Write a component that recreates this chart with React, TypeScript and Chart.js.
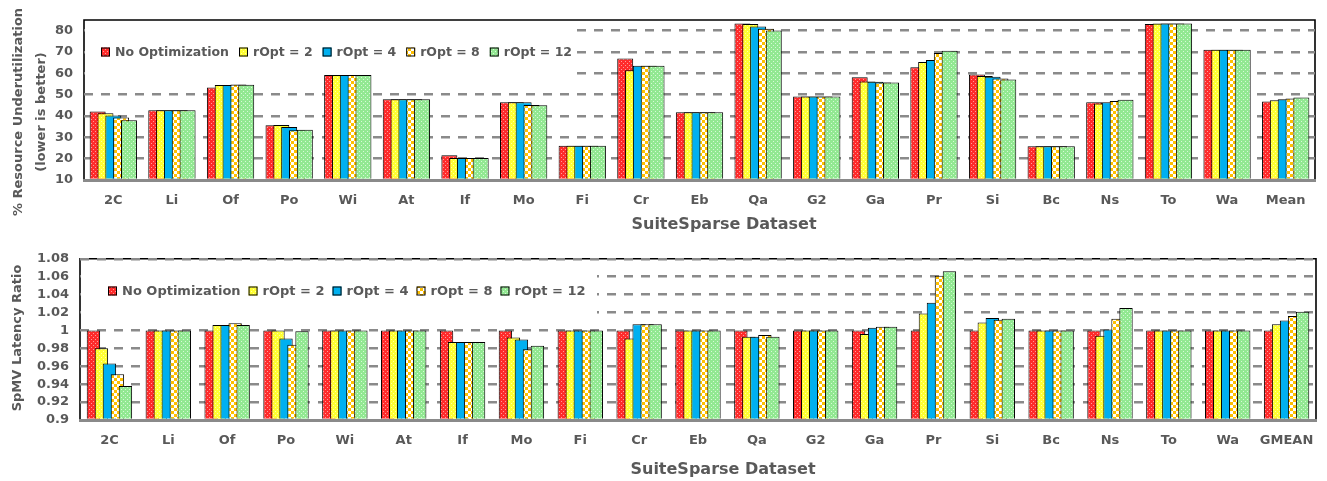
import React, { useEffect, useRef } from "react";
import { Chart, registerables } from "chart.js";

Chart.register(...registerables);

// ---------------- data ----------------
const UTIL_CATEGORIES = ["2C", "Li", "Of", "Po", "Wi", "At", "If", "Mo", "Fi", "Cr", "Eb", "Qa", "G2", "Ga", "Pr", "Si", "Bc", "Ns", "To", "Wa", "Mean"];
const LAT_CATEGORIES = ["2C", "Li", "Of", "Po", "Wi", "At", "If", "Mo", "Fi", "Cr", "Eb", "Qa", "G2", "Ga", "Pr", "Si", "Bc", "Ns", "To", "Wa", "GMEAN"];
const SERIES_NAMES = ["No Optimization", "rOpt = 2", "rOpt = 4", "rOpt = 8", "rOpt = 12"];

const UTIL_NO_OPT = [42.1, 42.7, 53.4, 35.7, 59.2, 47.9, 21.6, 46.5, 26.1, 67.0, 41.8, 83.4, 49.1, 58.2, 62.8, 59.5, 25.8, 46.5, 83.1, 71.1, 46.8];
const UTIL_R2 = [41.3, 42.7, 54.5, 35.8, 59.2, 47.9, 20.3, 46.5, 26.1, 61.5, 41.8, 83.1, 49.1, 56.2, 65.3, 58.8, 25.8, 45.9, 83.4, 71.1, 47.4];
const UTIL_R4 = [40.2, 42.7, 54.5, 34.9, 59.2, 47.9, 20.3, 46.4, 26.1, 63.5, 41.8, 81.9, 49.1, 56.0, 66.2, 58.4, 25.8, 46.4, 83.4, 71.1, 47.9];
const UTIL_R8 = [39.3, 42.7, 54.8, 33.3, 59.2, 47.9, 20.3, 45.1, 26.1, 63.5, 41.8, 80.9, 49.1, 55.7, 69.5, 57.6, 25.8, 47.0, 83.4, 71.1, 48.2];
const UTIL_R12 = [38.0, 42.7, 54.7, 33.6, 59.2, 47.9, 20.3, 45.0, 26.1, 63.5, 41.8, 80.1, 49.1, 55.7, 70.6, 57.1, 25.8, 47.6, 83.4, 71.1, 48.7];

const LAT_NO_OPT = [1.0, 1.0, 1.0, 1.0, 1.0, 1.0, 1.0, 1.0, 1.0, 1.0, 1.0, 1.0, 1.0, 1.0, 1.0, 1.0, 1.0, 1.0, 1.0, 1.0, 1.0];
const LAT_R2 = [0.980, 1.0, 1.006, 1.0, 1.0, 1.0, 0.987, 0.992, 1.0, 0.991, 1.0, 0.993, 1.0, 0.996, 1.019, 1.009, 1.0, 0.994, 1.0, 1.0, 1.007];
const LAT_R4 = [0.963, 1.0, 1.006, 0.991, 1.0, 1.0, 0.987, 0.990, 1.0, 1.007, 1.0, 0.993, 1.0, 1.003, 1.031, 1.014, 1.0, 1.001, 1.0, 1.0, 1.011];
const LAT_R8 = [0.951, 1.0, 1.008, 0.984, 1.0, 1.0, 0.987, 0.979, 1.0, 1.007, 1.0, 0.995, 1.0, 1.004, 1.061, 1.012, 1.0, 1.013, 1.0, 1.0, 1.016];
const LAT_R12 = [0.938, 1.0, 1.006, 0.999, 1.0, 1.0, 0.987, 0.983, 1.0, 1.007, 1.0, 0.993, 1.0, 1.004, 1.066, 1.013, 1.0, 1.025, 1.0, 1.0, 1.021];

const UTIL_TICKS = [10, 20, 30, 40, 50, 60, 70, 80];
const LAT_TICKS = [0.9, 0.92, 0.94, 0.96, 0.98, 1, 1.02, 1.04, 1.06, 1.08];

const UTIL_Y_TITLE = ["% Resource Underutilization", "(lower is better)"];
const LAT_Y_TITLE = ["SpMV Latency Ratio"];
const X_TITLE = "SuiteSparse Dataset";

// ---------------- styling ----------------
const FONT = '"DejaVu Sans", "Liberation Sans", sans-serif';
const TEXT = "#595959";
const GRID = "#8a8a8a";

function tile(w: number, h: number, paint: (g: CanvasRenderingContext2D) => void) {
  const c = document.createElement("canvas");
  c.width = w;
  c.height = h;
  const g = c.getContext("2d")!;
  paint(g);
  return g.createPattern(c, "repeat")!;
}

function dotted(base: string, dot: string) {
  return tile(4, 4, (g) => {
    g.fillStyle = base;
    g.fillRect(0, 0, 4, 4);
    g.fillStyle = dot;
    g.fillRect(1, 1, 1, 1);
    g.fillRect(3, 3, 1, 1);
  });
}

function makeFills() {
  const red = dotted("#ff2b2b", "#ff9a9a");
  const yellow = dotted("#ffff33", "#ffffa8");
  const blue = "#00b0f0";
  const checker = tile(6, 6, (g) => {
    g.fillStyle = "#ffffff";
    g.fillRect(0, 0, 6, 6);
    g.fillStyle = "#ffc000";
    g.fillRect(0, 0, 3, 3);
    g.fillRect(3, 3, 3, 3);
  });
  const green = dotted("#92e892", "#d6fad6");
  return [red, yellow, blue, checker, green];
}

type PanelCfg = {
  height: number;
  categories: string[];
  series: number[][];
  ticks: number[];
  min: number;
  max: number;
  yTitle: string[];
  yTitlePos: { x: number; y: number }[];
  xTitlePos: { x: number; y: number };
  padding: { top: number; right: number; left: number; bottom: number };
  yWidth: number;
  xHeight: number;
  catPct: number;
  barPct: number;
  legendRect: { x1: number; y1: number; x2: number; y2: number };
  legendStart: { x: number; y: number };
  legendFont: number;
  legendGap: number;
  fmt: (v: number) => string;
};

function panelPlugin(cfg: PanelCfg, fills: any[]) {
  return {
    id: "panelDecor",
    beforeDraw(chart: any) {
      const { ctx, chartArea: a } = chart;
      ctx.save();
      ctx.strokeStyle = "#000";
      ctx.lineWidth = 1.6;
      ctx.beginPath();
      ctx.moveTo(a.left, a.bottom);
      ctx.lineTo(a.left, a.top);
      ctx.lineTo(a.right, a.top);
      ctx.lineTo(a.right, a.bottom);
      ctx.stroke();
      // axis titles
      ctx.fillStyle = TEXT;
      ctx.textAlign = "center";
      ctx.textBaseline = "middle";
      ctx.font = `bold 13px ${FONT}`;
      cfg.yTitle.forEach((line, i) => {
        const p = cfg.yTitlePos[i];
        ctx.save();
        ctx.translate(p.x, p.y);
        ctx.rotate(-Math.PI / 2);
        ctx.fillText(line, 0, 0);
        ctx.restore();
      });
      ctx.font = `bold 16px ${FONT}`;
      ctx.fillText(X_TITLE, cfg.xTitlePos.x, cfg.xTitlePos.y);
      ctx.restore();
    },
    beforeDatasetsDraw(chart: any) {
      const { ctx, chartArea: a } = chart;
      const r = cfg.legendRect;
      ctx.save();
      ctx.fillStyle = "#ffffff";
      ctx.fillRect(r.x1, r.y1, r.x2 - r.x1, r.y2 - r.y1);
      ctx.font = `bold ${cfg.legendFont}px ${FONT}`;
      ctx.textAlign = "left";
      ctx.textBaseline = "middle";
      let x = cfg.legendStart.x;
      const y = cfg.legendStart.y;
      SERIES_NAMES.forEach((name, i) => {
        ctx.fillStyle = fills[i];
        ctx.fillRect(x, y - 4.5, 9, 9);
        ctx.strokeStyle = "#000";
        ctx.lineWidth = 1;
        ctx.strokeRect(x + 0.5, y - 4, 8, 8);
        ctx.fillStyle = TEXT;
        ctx.fillText(name, x + 14, y + 0.5);
        x += 14 + ctx.measureText(name).width + cfg.legendGap;
      });
      ctx.restore();
      // draw bars so that later series sit on top of earlier ones
      ctx.save();
      ctx.beginPath();
      ctx.rect(a.left, a.top - 2, a.right - a.left, a.bottom - a.top + 2);
      ctx.clip();
      chart.getSortedVisibleDatasetMetas().forEach((m: any) => m.controller.draw());
      ctx.restore();
      return false;
    },
  };
}

function buildConfig(cfg: PanelCfg, fills: any[]): any {
  const tickFont = { family: FONT, size: 13, weight: "bold" as const };
  return {
    type: "bar",
    data: {
      labels: cfg.categories,
      datasets: cfg.series.map((data, i) => ({
        label: SERIES_NAMES[i],
        data,
        base: cfg.min,
        backgroundColor: fills[i],
        borderColor: "#000000",
        borderWidth: 1,
        categoryPercentage: cfg.catPct,
        barPercentage: cfg.barPct,
      })),
    },
    options: {
      animation: false,
      responsive: false,
      devicePixelRatio: 1,
      layout: { padding: cfg.padding },
      plugins: { legend: { display: false }, tooltip: { enabled: false }, title: { display: false } },
      scales: {
        x: {
          grid: { display: false, drawTicks: false },
          border: { display: true, color: GRID, width: 3, z: 1 },
          ticks: { font: tickFont, color: TEXT, padding: 13, autoSkip: false, maxRotation: 0 },
          afterFit: (s: any) => {
            s.height = cfg.xHeight;
          },
        },
        y: {
          min: cfg.min,
          max: cfg.max,
          afterBuildTicks: (s: any) => {
            s.ticks = cfg.ticks.map((v) => ({ value: v }));
          },
          afterFit: (s: any) => {
            s.width = cfg.yWidth;
          },
          grid: { color: GRID, lineWidth: 2.6, drawTicks: false },
          border: { display: false, dash: [9, 8] },
          ticks: {
            font: tickFont,
            color: TEXT,
            padding: 11,
            autoSkip: false,
            callback: (v: any) => cfg.fmt(Number(v)),
          },
        },
      },
    },
    plugins: [panelPlugin(cfg, fills)],
  };
}

const TOP_PANEL: PanelCfg = {
  height: 240,
  categories: UTIL_CATEGORIES,
  series: [UTIL_NO_OPT, UTIL_R2, UTIL_R4, UTIL_R8, UTIL_R12],
  ticks: UTIL_TICKS,
  min: 10,
  max: 85,
  yTitle: UTIL_Y_TITLE,
  yTitlePos: [
    { x: 19, y: 112 },
    { x: 41.5, y: 112 },
  ],
  xTitlePos: { x: 724, y: 225 },
  padding: { top: 20, right: 12, left: 0, bottom: 0 },
  yWidth: 84,
  xHeight: 60,
  catPct: 0.668,
  barPct: 2.04,
  legendRect: { x1: 85, y1: 24, x2: 573, y2: 86 },
  legendStart: { x: 101, y: 52 },
  legendFont: 12.5,
  legendGap: 10,
  fmt: (v) => String(Math.round(v)),
};

const BOTTOM_PANEL: PanelCfg = {
  height: 241,
  categories: LAT_CATEGORIES,
  series: [LAT_NO_OPT, LAT_R2, LAT_R4, LAT_R8, LAT_R12],
  ticks: LAT_TICKS,
  min: 0.9,
  max: 1.08,
  yTitle: LAT_Y_TITLE,
  yTitlePos: [{ x: 17.5, y: 98 }],
  xTitlePos: { x: 723, y: 230 },
  padding: { top: 18, right: 11, left: 0, bottom: 0 },
  yWidth: 80,
  xHeight: 61,
  catPct: 0.68,
  barPct: 1.67,
  legendRect: { x1: 81, y1: 24, x2: 597, y2: 82 },
  legendStart: { x: 108, y: 51 },
  legendFont: 13,
  legendGap: 8,
  fmt: (v) => String(Number(v.toFixed(2))),
};

function Panel({ cfg }: { cfg: PanelCfg }) {
  const ref = useRef<HTMLCanvasElement>(null);
  useEffect(() => {
    if (!ref.current) return;
    const fills = makeFills();
    const chart = new Chart(ref.current, buildConfig(cfg, fills));
    return () => chart.destroy();
  }, [cfg]);
  return (
    <canvas
      ref={ref}
      width={1327}
      height={cfg.height}
      style={{ display: "block", width: 1327, height: cfg.height }}
    />
  );
}

export default function App() {
  return (
    <div style={{ position: "fixed", left: 0, top: 0, width: 1327, height: 481, background: "#ffffff" }}>
      <Panel cfg={TOP_PANEL} />
      <Panel cfg={BOTTOM_PANEL} />
    </div>
  );
}
